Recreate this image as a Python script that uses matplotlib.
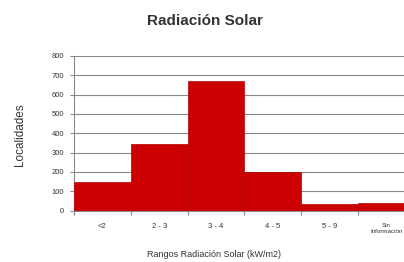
import numpy as np
import matplotlib.pyplot as plt

plt.rcParams['font.family'] = ['Liberation Sans', 'DejaVu Sans']

# data
categories = ['<2', '2 - 3', '3 - 4', '4 - 5', '5 - 9', 'Sin\nInformación']
localidades = [146, 342, 672, 199, 33, 42]
y_ticks = [0, 100, 200, 300, 400, 500, 600, 700, 800]

fig = plt.figure(figsize=(4.04, 2.62), dpi=100)
ax = fig.add_axes([0.183, 0.196, 0.844, 0.591])

x = np.arange(len(categories))
ax.bar(x, localidades, width=1.0, color='#cc0000', edgecolor='#b00000', linewidth=0.5, zorder=3)

ax.set_xlim(-0.5, len(categories) - 0.5)
ax.set_ylim(0, 800)
ax.set_yticks(y_ticks)
ax.set_yticklabels([str(v) for v in y_ticks], fontsize=5.5, color='#333333')
ax.yaxis.grid(True, color='#888888', linewidth=0.8, zorder=0)

# ticks between bars, labels at centers
ax.set_xticks(np.arange(len(categories) + 1) - 0.5)
ax.set_xticklabels([])
ax.set_xticks(x, minor=True)
ax.set_xticklabels(categories, minor=True, fontsize=5.5, color='#333333')
ax.tick_params(axis='x', which='minor', length=0, pad=9)
ax.tick_params(axis='x', which='major', length=3, color='#888888')
ax.tick_params(axis='y', length=3, color='#888888', pad=4)
lbl = ax.get_xticklabels(minor=True)[-1]
lbl.set_fontsize(4.5)
lbl.set_verticalalignment('top')

for side in ['top', 'right']:
    ax.spines[side].set_visible(False)
ax.spines['left'].set_color('#888888')
ax.spines['bottom'].set_color('#888888')

fig.text(0.507, 0.92, 'Radiación Solar', ha='center', va='center',
         fontsize=11, fontweight='bold', color='#333333')
fig.text(0.05, 0.485, 'Localidades', ha='center', va='center', rotation=90,
         fontsize=8.5, color='#333333')
fig.text(0.53, 0.03, 'Rangos Radiación Solar (kW/m2)', ha='center', va='center',
         fontsize=6.5, color='#333333')

fig.savefig('out.png', dpi=100)
